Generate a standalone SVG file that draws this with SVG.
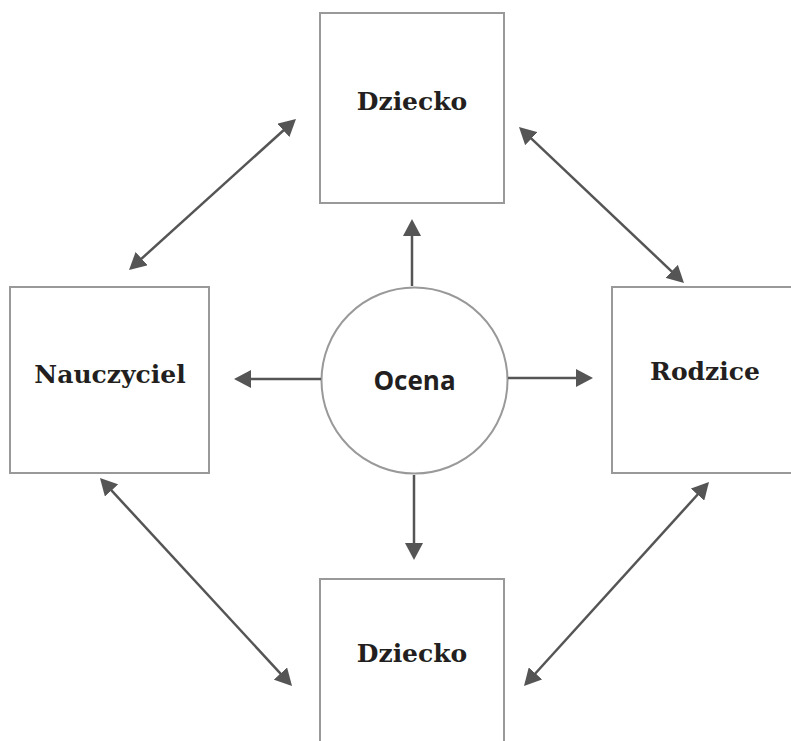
<svg xmlns="http://www.w3.org/2000/svg" width="791" height="741" viewBox="0 0 791 741">
<style>
.box{fill:#fff;stroke:#999;stroke-width:2}
.lbl{font-family:"DejaVu Serif","Liberation Serif",serif;font-weight:bold;font-size:25px;fill:#231f20;text-anchor:middle}
.clbl{font-family:"Open Sans","Liberation Sans",sans-serif;font-weight:bold;font-size:26px;fill:#231f20;text-anchor:middle}
.conn line{stroke:#555;stroke-width:2.5;marker-end:url(#ah)}
.conn line.bi{marker-start:url(#ah)}
</style>
<defs>
<marker id="ah" markerUnits="userSpaceOnUse" viewBox="0 0 17 18" refX="13" refY="9" markerWidth="17" markerHeight="18" orient="auto-start-reverse">
<path d="M0,0 L17,9 L0,18 Z" fill="#555"/>
</marker>
</defs>
<rect width="791" height="741" fill="#fff"/>
<g id="dziecko-top">
<rect class="box" x="320" y="13" width="184" height="190"/>
<text class="lbl" x="412" y="110">Dziecko</text>
</g>
<g id="nauczyciel">
<rect class="box" x="10" y="287" width="199" height="186"/>
<text class="lbl" x="110" y="383">Nauczyciel</text>
</g>
<g id="rodzice">
<rect class="box" x="612" y="287" width="200" height="186"/>
<text class="lbl" x="705" y="380">Rodzice</text>
</g>
<g id="dziecko-bottom">
<rect class="box" x="320" y="579" width="184" height="200"/>
<text class="lbl" x="412" y="662">Dziecko</text>
</g>
<g id="ocena">
<circle cx="414.5" cy="380.5" r="93" fill="#fff" stroke="#999" stroke-width="2"/>
<text class="clbl" x="414.5" y="390">Ocena</text>
</g>
<g class="conn" id="connectors">
<line x1="412" y1="286" x2="412" y2="223"/>
<line x1="321" y1="379" x2="238" y2="379"/>
<line x1="508" y1="378" x2="589" y2="378"/>
<line x1="414" y1="475" x2="414" y2="556"/>
<line class="bi" x1="132" y1="267.3" x2="293" y2="121.7"/>
<line class="bi" x1="521.9" y1="129.7" x2="681.1" y2="280.3"/>
<line class="bi" x1="102.7" y1="480.9" x2="289.3" y2="683.1"/>
<line class="bi" x1="706.3" y1="485" x2="526.7" y2="683"/>
</g>
</svg>
